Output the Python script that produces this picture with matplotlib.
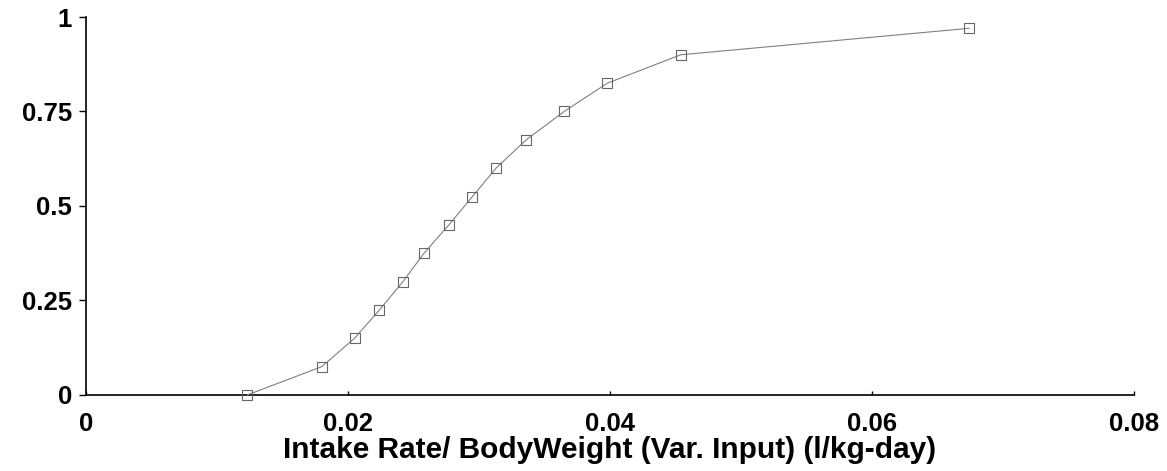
import matplotlib
matplotlib.use("Agg")
import matplotlib.pyplot as plt

# cumulative probability vs intake rate / body weight
intake = [0.0123, 0.0180, 0.0205, 0.0224, 0.0242, 0.0258, 0.0277,
          0.0295, 0.0313, 0.0336, 0.0365, 0.0398, 0.0454, 0.0674]
prob = [0.0, 0.075, 0.15, 0.225, 0.30, 0.375, 0.45,
        0.525, 0.60, 0.675, 0.75, 0.825, 0.90, 0.97]

xticks = [0, 0.02, 0.04, 0.06, 0.08]
xtick_labels = ["0", "0.02", "0.04", "0.06", "0.08"]
yticks = [0, 0.25, 0.5, 0.75, 1]
ytick_labels = ["0", "0.25", "0.5", "0.75", "1"]

xlabel = "Intake Rate/ BodyWeight (Var. Input) (l/kg-day)"

plt.rcParams["font.family"] = ["Liberation Sans", "DejaVu Sans"]

fig = plt.figure(figsize=(11.67, 4.71), dpi=100)
ax = fig.add_axes([0.0737, 0.1614, 0.898, 0.8025])

ax.plot(intake, prob, color="0.5", lw=0.8, marker="s", markersize=6.5,
        markerfacecolor="none", markeredgecolor="0.4", markeredgewidth=0.8,
        clip_on=False, zorder=3)

ax.set_xlim(0, 0.08)
ax.set_ylim(0, 1)
ax.set_xticks(xticks)
ax.set_xticklabels(xtick_labels, fontsize=18.5, fontweight="bold")
ax.set_yticks(yticks)
ax.set_yticklabels(ytick_labels, fontsize=18.5, fontweight="bold")
ax.tick_params(axis="y", direction="out", length=5, width=1, pad=5)
ax.tick_params(axis="x", direction="in", length=3, width=1, pad=12)

for s in ["top", "right"]:
    ax.spines[s].set_visible(False)
for s in ["left", "bottom"]:
    ax.spines[s].set_linewidth(1.2)

ax.set_xlabel(xlabel, fontsize=21.5, fontweight="bold", labelpad=0)

fig.savefig("out.png", dpi=100)
